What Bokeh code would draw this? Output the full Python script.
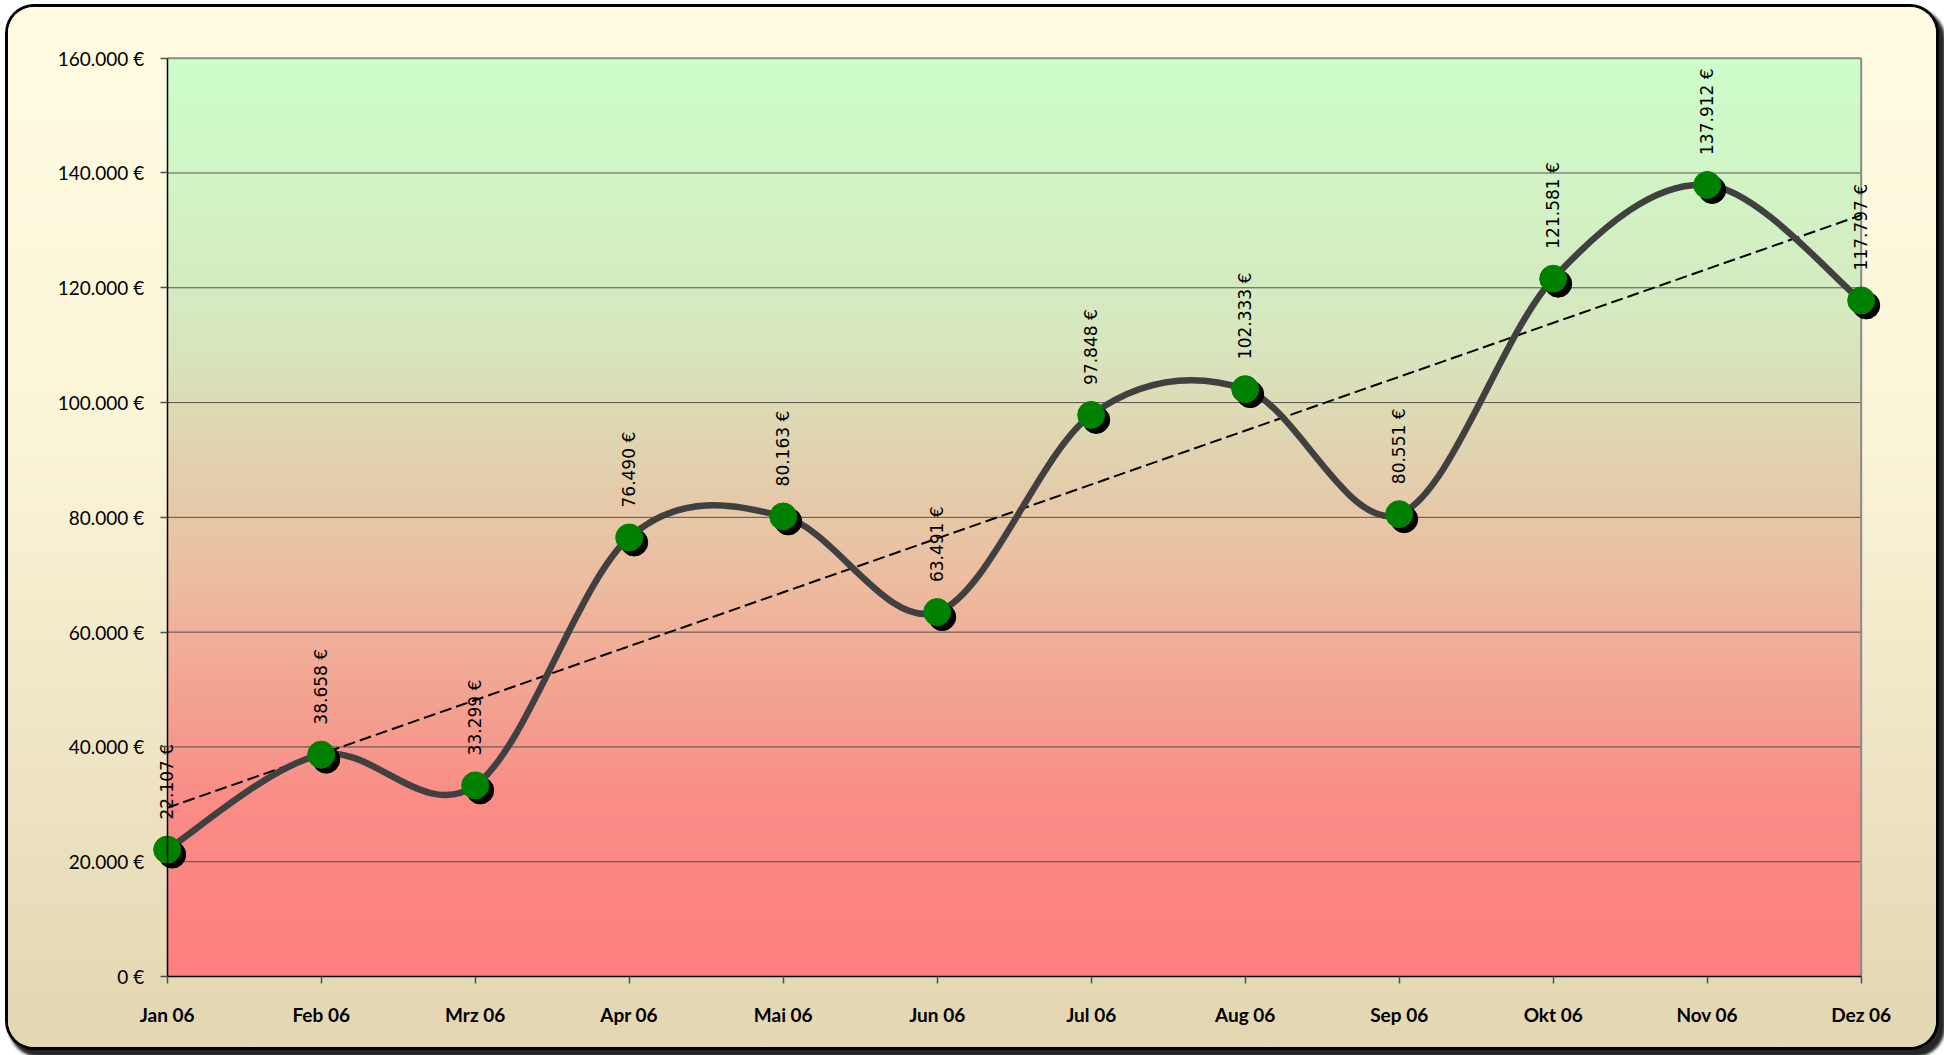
import numpy as np
from bokeh.plotting import figure
from bokeh.models import Range1d, FixedTicker, ColumnDataSource
from bokeh.transform import dodge
from bokeh.core.properties import value
from bokeh.embed import file_html
from bokeh.resources import INLINE

# ---- data ----
months = ["Jan 06", "Feb 06", "Mrz 06", "Apr 06", "Mai 06", "Jun 06",
          "Jul 06", "Aug 06", "Sep 06", "Okt 06", "Nov 06", "Dez 06"]
revenue = [22107, 38658, 33299, 76490, 80163, 63491,
           97848, 102333, 80551, 121581, 137912, 117797]
y_ticks = [0, 20000, 40000, 60000, 80000, 100000, 120000, 140000, 160000]
y_tick_labels = ["0 €", "20.000 €", "40.000 €", "60.000 €", "80.000 €",
                 "100.000 €", "120.000 €", "140.000 €", "160.000 €"]

def eur(v):
    return f"{v:,.0f} €".replace(",", ".")

n = len(months)
xs = list(range(n))
labels = [eur(v) for v in revenue]

# ---- layout (pixels inside the figure) ----
W, H = 1928, 1040
axis_x0, axis_x1 = 158.7, 1852.7      # screen x of first / last month
axis_y_top, axis_y_bot = 50.7, 969.0  # screen y of max / zero
fl, fr, ft, fb = 30, 1900, 40, 1034   # frame edges
px_per_x = (axis_x1 - axis_x0) / (n - 1)
px_per_y = (axis_y_bot - axis_y_top) / (y_ticks[-1] - y_ticks[0])
x_start = -(axis_x0 - fl) / px_per_x
x_end = (n - 1) + (fr - axis_x1) / px_per_x
y_start = y_ticks[0] - (fb - axis_y_bot) / px_per_y
y_end = y_ticks[-1] + (axis_y_top - ft) / px_per_y

p = figure(width=W, height=H, output_backend="svg", toolbar_location=None,
           x_range=Range1d(x_start, x_end), y_range=Range1d(y_start, y_end),
           min_border_left=fl, min_border_right=W - fr, min_border_top=ft,
           min_border_bottom=H - fb)
p.border_fill_color = None
p.background_fill_color = None
p.outline_line_color = None
p.styles = {
    "position": "relative",
    "left": "8px",
    "top": "7px",
    "border-radius": "26px",
    "background": "linear-gradient(to bottom, #fffce2 0%, #fbf5d8 40%, #e3d6b2 100%)",
    "box-shadow": "0 0 0 3px #000000, 5px 6px 3px 4px rgba(0,0,0,0.85)",
}

# gradient plot background (red bottom -> green top)
stops_t = [0.0, 0.1875, 0.4375, 0.6875, 1.0]
stops_c = [(255, 128, 128), (250, 140, 134), (236, 190, 160), (216, 230, 190), (204, 255, 204)]
N = 320
t = np.linspace(0, 1, N)
cols = np.stack([np.interp(t, stops_t, [c[k] for c in stops_c]) for k in range(3)], axis=1).astype(np.uint8)
img = np.zeros((N, 1), dtype=np.uint32)
view = img.view(dtype=np.uint8).reshape((N, 1, 4))
view[:, 0, 0] = cols[:, 0]
view[:, 0, 1] = cols[:, 1]
view[:, 0, 2] = cols[:, 2]
view[:, 0, 3] = 255
p.image_rgba(image=[img], x=0, y=y_ticks[0], dw=n - 1, dh=y_ticks[-1] - y_ticks[0],
             level="image")

# grid lines limited to the plot area
p.xgrid.visible = False
p.ygrid.visible = False
inner = y_ticks[1:-1]
p.segment(x0=[0] * len(inner), x1=[n - 1] * len(inner), y0=inner, y1=inner,
          line_color="#3c3c3c", line_width=1, line_alpha=0.85, level="underlay")
# plot-area border (top and right, grey)
p.segment(x0=[0, n - 1], x1=[n - 1, n - 1], y0=[y_ticks[-1], y_ticks[0]],
          y1=[y_ticks[-1], y_ticks[-1]], line_color="#8a8a8a", line_width=2,
          level="underlay")

# axes (pinned to the data origin)
p.yaxis.fixed_location = 0
p.xaxis.fixed_location = y_ticks[0]
p.yaxis.bounds = (y_ticks[0], y_ticks[-1])
p.xaxis.bounds = (0, n - 1)
p.yaxis.ticker = FixedTicker(ticks=y_ticks)
p.yaxis.major_label_overrides = {t_: l for t_, l in zip(y_ticks, y_tick_labels)}
p.xaxis.ticker = FixedTicker(ticks=xs)
p.xaxis.major_label_overrides = {i: m for i, m in zip(xs, months)}
for ax in (p.xaxis, p.yaxis):
    ax.axis_line_color = "#000000"
    ax.axis_line_width = 1.5
    ax.major_tick_line_color = "#505050"
    ax.major_tick_line_width = 1.5
    ax.major_tick_out = 7
    ax.major_tick_in = 0
    ax.minor_tick_line_color = None
    ax.major_label_text_font = "Lato"
    ax.major_label_text_font_size = "19px"
    ax.major_label_text_color = "#000000"
p.yaxis.major_label_standoff = 16
p.xaxis.major_label_standoff = 19
p.xaxis.major_label_text_font_style = "bold"

# trend line (least squares)
xa = np.array(xs, dtype=float)
ya = np.array(revenue, dtype=float)
slope, intercept = np.polyfit(xa, ya, 1)
p.line(x=[xa[0], xa[-1]], y=[intercept + slope * xa[0], intercept + slope * xa[-1]],
       line_color="#000000", line_width=2, line_dash="12 5")

# smoothed line (Excel-like cubic Bezier)
P = list(zip(xa, ya))
seg = dict(x0=[], y0=[], x1=[], y1=[], cx0=[], cy0=[], cx1=[], cy1=[])
for i in range(n - 1):
    p0 = P[max(i - 1, 0)]
    p1 = P[i]
    p2 = P[i + 1]
    p3 = P[min(i + 2, n - 1)]
    seg["x0"].append(p1[0]); seg["y0"].append(p1[1])
    seg["x1"].append(p2[0]); seg["y1"].append(p2[1])
    seg["cx0"].append(p1[0] + (p2[0] - p0[0]) / 6); seg["cy0"].append(p1[1] + (p2[1] - p0[1]) / 6)
    seg["cx1"].append(p2[0] - (p3[0] - p1[0]) / 6); seg["cy1"].append(p2[1] - (p3[1] - p1[1]) / 6)
p.bezier(x0="x0", y0="y0", x1="x1", y1="y1", cx0="cx0", cy0="cy0", cx1="cx1", cy1="cy1",
         source=ColumnDataSource(seg), line_color="#404040", line_width=6.5, line_cap="round")

# markers with shadow
src = ColumnDataSource(dict(x=xs, y=revenue, label=labels))
p.scatter(x=dodge("x", 5 / px_per_x), y=dodge("y", -5 / px_per_y), source=src, size=27,
          fill_color="#000000", line_color="#000000")
p.scatter(x="x", y="y", source=src, size=27, fill_color="#008000", line_color="#008000")

# data labels
p.text(x="x", y="y", text="label", source=src, angle=np.pi / 2,
       text_align="left", text_baseline="middle", y_offset=-30,
       text_font=value("DejaVu Sans"), text_font_size="17px", text_color="#000000")

open("out.html", "w").write(file_html(p, INLINE))
